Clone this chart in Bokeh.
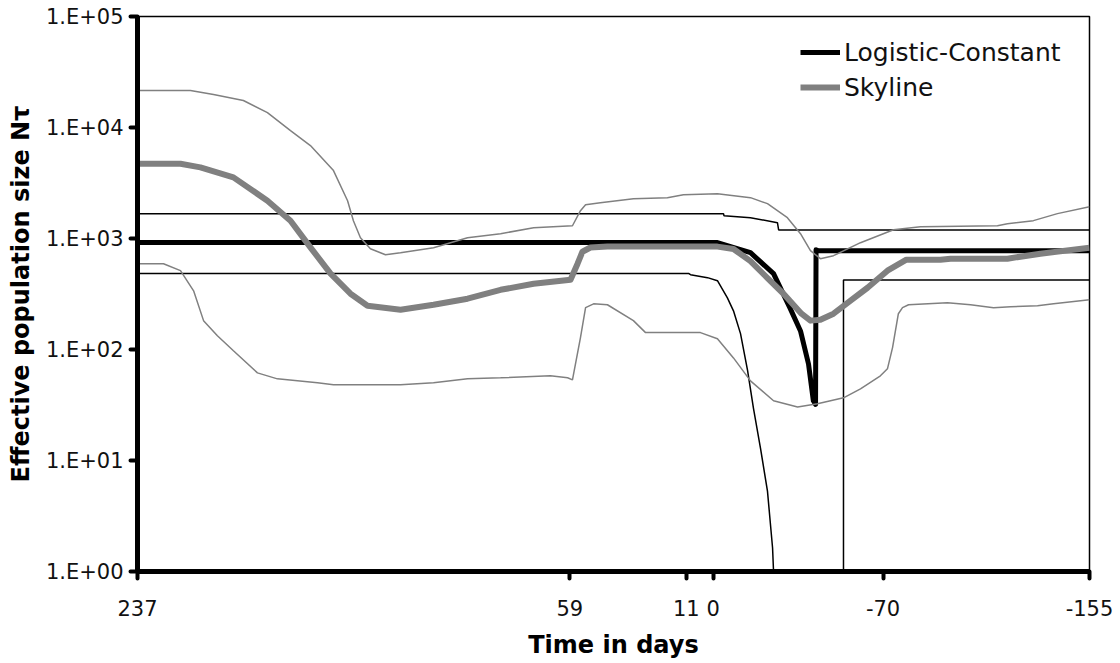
from bokeh.plotting import figure
from bokeh.models import FixedTicker, Legend, LegendItem, Range1d
from bokeh.embed import file_html
from bokeh.resources import INLINE

# ---- axis ticks ----
x_ticks = [237, 59, 11, 0, -70, -155]
x_tick_labels = ["237", "59", "11", "0", "-70", "-155"]
y_ticks = [1, 10, 100, 1000, 10000, 100000]
y_tick_labels = ["1.E+00", "1.E+01", "1.E+02", "1.E+03", "1.E+04", "1.E+05"]

# ---- Logistic-Constant: median ----
lc_days = [237, -1.8, -15.4, -24.9, -31.6, -36.0, -39.3, -41.3, -42.2, -42.4, -43.5, -155]
lc_vals = [920, 920, 745, 482, 238, 147, 74, 34.5, 32, 790, 775, 775]

# ---- Logistic-Constant: upper bound ----
lcu_days = [237, -4.3, -4.5, -15.4, -26.5, -27.0, -155]
lcu_vals = [1675, 1675, 1604, 1541, 1388, 1195, 1195]

# ---- Logistic-Constant: lower bound ----
lcl_days = [237, 10.1, 9.3, 2.3, -1.8, -5.9, -8.4, -11.3, -14.2, -16.6, -19.5, -22.4,
            -24.5, -24.9, -53.7, -53.7, -155]
lcl_vals = [485, 485, 472, 444, 417, 292, 223, 139, 65, 29.8, 13.0, 5.3,
            1.63, 1.0, 1.0, 423, 423]

# ---- Skyline: median ----
sk_days = [237, 219.3, 211.1, 197.5, 183.5, 174, 165.8, 157.5, 149.3, 142.3, 128.7, 115.1,
           101.1, 87.5, 73.9, 58.7, 55.8, 53.8, 50.5, 43.5, -1.8, -8.4, -15.4, -22.4, -29.0,
           -36.4, -40.1, -44.2, -49.6, -56.6, -63.6, -71.8, -79.6, -93.6, -97.8, -121.2,
           -134.8, -155]
sk_vals = [4720, 4710, 4375, 3555, 2190, 1446, 832, 482, 318, 248, 228, 253,
           287, 345, 391, 425, 593, 760, 830, 845, 845, 805, 625, 440, 318,
           210, 182, 185, 210, 275, 360, 513, 644, 644, 658, 658,
           730, 826]

# ---- Skyline: upper bound ----
su_days = [237, 215.2, 205.7, 193.4, 183.5, 174, 165.8, 156.3, 150.5, 148.1, 145.2, 141.1,
           134.9, 128.7, 115.1, 101.1, 87.5, 73.9, 57.9, 54.6, 52.5, 46.4, 32.8, 18.8, 12.2,
           -1.8, -15.4, -22.4, -30.6, -36.0, -40.1, -44.2, -49.6, -60.7, -74.3, -85.4,
           -117.1, -121.2, -131.9, -141.8, -155]
su_vals = [21500, 21500, 19800, 17500, 13600, 9370, 6870, 4090, 2190, 1446, 1016, 809,
           714, 745, 826, 1016, 1104, 1250, 1303, 1781, 2018, 2104, 2285, 2333, 2484,
           2535, 2333, 2060, 1541, 1104, 777, 658, 700, 917, 1200, 1277,
           1303, 1358, 1448, 1675, 1936]

# ---- Skyline: lower bound ----
sl_days = [237, 226.3, 219.3, 213.9, 209.8, 204.1, 197.5, 187.6, 179.4, 162.9, 156.3, 128.7,
           115.1, 101.1, 87.5, 67.0, 59.9, 57.9, 54.6, 52.5, 49.2, 43.5, 32.8, 27.8, 5.2,
           -1.8, -8.4, -15.4, -24.9, -34.8, -43.0, -53.7, -60.7, -68.9, -71.8, -73.9,
           -76.3, -78.0, -80.5, -96.5, -106, -115.5, -122.5, -133.6, -140.2, -155]
sl_vals = [593, 593, 513, 338, 182, 133, 97.3, 61.6, 54.4, 50.1, 48.1, 48.1,
           50.1, 54.4, 55.6, 57.9, 55.6, 53.3, 128, 238, 258, 253, 182, 142, 142,
           125, 84, 52.2, 34.5, 30.4, 32.4, 36.7, 44.2, 57.9, 67, 104,
           210, 238, 253, 264, 253, 238, 243, 248, 258, 281]

FONT = "DejaVu Sans"
BLACK = "#000000"
GRAY = "#808080"

p = figure(width=1120, height=663, y_axis_type="log",
           x_range=Range1d(237, -155), y_range=Range1d(1, 100000),
           output_backend="svg", toolbar_location=None,
           min_border_left=137, min_border_right=31, min_border_top=16, min_border_bottom=92)
p.xgrid.visible = False
p.ygrid.visible = False
p.outline_line_color = BLACK
p.outline_line_width = 1.5
p.background_fill_color = "white"
p.border_fill_color = "white"

# lines
r_lc = p.line(lc_days, lc_vals, line_color=BLACK, line_width=5, line_join="round")
p.line(lcu_days, lcu_vals, line_color=BLACK, line_width=1.5)
p.line(lcl_days, lcl_vals, line_color=BLACK, line_width=1.5)
r_sk = p.line(sk_days, sk_vals, line_color=GRAY, line_width=6, line_join="round")
p.line(su_days, su_vals, line_color=GRAY, line_width=1.5)
p.line(sl_days, sl_vals, line_color=GRAY, line_width=1.5)

# axes
for ax in (p.xaxis[0], p.yaxis[0]):
    ax.axis_line_width = 5
    ax.axis_line_color = BLACK
    ax.major_tick_line_width = 4
    ax.major_tick_line_color = BLACK
    ax.major_tick_line_cap = "round"
    ax.major_tick_out = 7
    ax.major_tick_in = 0
    ax.minor_tick_line_color = None
    ax.major_label_text_font = FONT
    ax.major_label_text_font_size = "21px"
    ax.major_label_text_color = "#111111"
    ax.axis_label_text_font = FONT
    ax.axis_label_text_font_style = "bold"
    ax.axis_label_text_font_size = "24px"
    ax.axis_label_text_color = BLACK

p.xaxis.ticker = FixedTicker(ticks=x_ticks)
p.xaxis.major_label_overrides = {t: l for t, l in zip(x_ticks, x_tick_labels)}
p.xaxis.axis_label = "Time in days"
p.xaxis.major_label_standoff = 21
p.xaxis.axis_label_standoff = 12

p.yaxis.ticker = FixedTicker(ticks=y_ticks)
p.yaxis.major_label_overrides = {t: l for t, l in zip(y_ticks, y_tick_labels)}
p.yaxis.axis_label = "Effective population size Nτ"
p.yaxis.major_label_standoff = 7
p.yaxis.axis_label_standoff = 8

legend = Legend(items=[LegendItem(label="Logistic-Constant", renderers=[r_lc]),
                       LegendItem(label="Skyline", renderers=[r_sk])],
                location=(663, 469))
legend.border_line_color = None
legend.background_fill_alpha = 0
legend.label_text_font = FONT
legend.label_text_font_size = "25px"
legend.label_text_color = "#111111"
legend.glyph_width = 40
legend.glyph_height = 30
legend.label_height = 30
legend.spacing = 5
legend.padding = 0
legend.margin = 0
legend.label_standoff = 4
p.add_layout(legend)

open("out.html", "w").write(file_html(p, INLINE))
